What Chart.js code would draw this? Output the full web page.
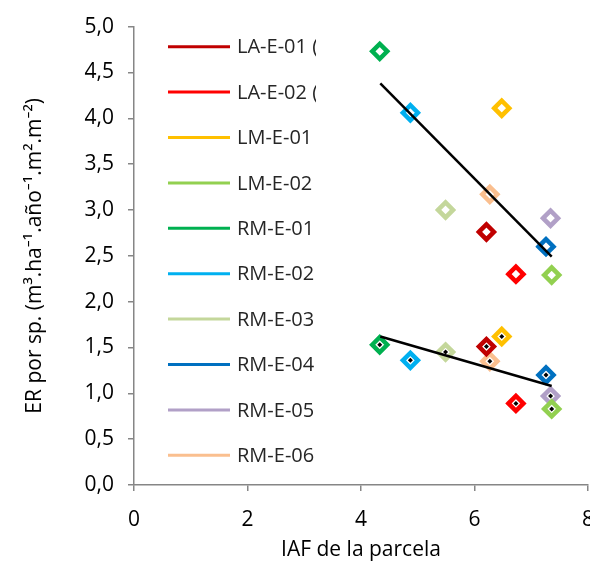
<!DOCTYPE html>
<html lang="es">
  <head>
    <meta charset="UTF-8">
    <title>ER por sp. vs IAF</title>
    <script src="https://cdn.jsdelivr.net/npm/chart.js"></script>
    <style>
      html, body { margin: 0; padding: 0; background: #fff; overflow: hidden; }
      #wrap { position: absolute; left: 0; top: 0; width: 590px; height: 563px; overflow: hidden; }
    </style>
  </head>
  <body>
    <div id="wrap">
      <canvas id="grafico" width="620" height="563"></canvas>
    </div>
    <script>
        // Parcelas y colores
        const parcelas = ['LA-E-01 (', 'LA-E-02 (', 'LM-E-01', 'LM-E-02', 'RM-E-01', 'RM-E-02', 'RM-E-03', 'RM-E-04', 'RM-E-05', 'RM-E-06'];
        const colores = ['#C00000', '#FF0000', '#FFC000', '#92D050', '#00B050', '#00B0F0', '#C4D79B', '#0070C0', '#B1A0C7', '#FABF8F'];

        // IAF de la parcela (eje x)
        const iaf = [6.21, 6.73, 6.48, 7.36, 4.33, 4.87, 5.49, 7.26, 7.34, 6.27];
        // ER por sp. - grupo superior y grupo inferior (puntos con centro negro)
        const erSuperior = [2.76, 2.30, 4.11, 2.29, 4.73, 4.06, 3.00, 2.60, 2.91, 3.17];
        const erInferior = [1.51, 0.89, 1.62, 0.83, 1.53, 1.36, 1.45, 1.20, 0.97, 1.35];

        // Líneas de tendencia (extremos)
        const tendSupX = [4.34, 7.36];
        const tendSupY = [4.38, 2.49];
        const tendInfX = [4.34, 7.36];
        const tendInfY = [1.62, 1.08];

        const fuente = "'Open Sans', 'Noto Sans', sans-serif";

        const datasets = [];
        parcelas.forEach((p, i) => {
            datasets.push({
                type: 'scatter',
                label: p,
                data: [{ x: iaf[i], y: erSuperior[i] }, { x: iaf[i], y: erInferior[i] }],
                pointStyle: 'rectRot',
                pointRadius: 7.5,
                pointBorderWidth: 4.5,
                borderColor: colores[i],
                backgroundColor: '#fff',
                pointBackgroundColor: '#fff',
                pointBorderColor: colores[i],
                order: 2
            });
        });
        datasets.push({
            type: 'line', label: 'tend1',
            data: tendSupX.map((x, i) => ({ x: x, y: tendSupY[i] })),
            borderColor: '#000', borderWidth: 2.5, pointRadius: 0, fill: false, order: 1
        });
        datasets.push({
            type: 'line', label: 'tend2',
            data: tendInfX.map((x, i) => ({ x: x, y: tendInfY[i] })),
            borderColor: '#000', borderWidth: 2.5, pointRadius: 0, fill: false, order: 1
        });
        datasets.push({
            type: 'scatter', label: 'centros',
            data: iaf.map((x, i) => ({ x: x, y: erInferior[i] })),
            pointStyle: 'rectRot', pointRadius: 2.5, pointBorderWidth: 0,
            pointBackgroundColor: '#000', backgroundColor: '#000', borderColor: '#000', order: 0
        });

        // Leyenda dibujada dentro del área del gráfico
        const leyenda = {
            id: 'leyenda',
            afterDraw(chart) {
                const ctx = chart.ctx;
                ctx.save();
                ctx.beginPath();
                ctx.rect(150, 20, 166, 460);
                ctx.clip();
                parcelas.forEach((p, i) => {
                    const y = 46.7 + i * 45.4;
                    ctx.strokeStyle = colores[i];
                    ctx.lineWidth = 3;
                    ctx.beginPath();
                    ctx.moveTo(168, y);
                    ctx.lineTo(230, y);
                    ctx.stroke();
                    ctx.fillStyle = '#262626';
                    ctx.font = '20px ' + fuente;
                    ctx.textBaseline = 'middle';
                    ctx.fillText(p, 237, y + 1);
                });
                ctx.restore();
            }
        };

        const ejeGris = '#868686';
        new Chart(document.getElementById('grafico'), {
            data: { datasets: datasets },
            options: {
                responsive: false,
                animation: false,
                devicePixelRatio: 1,
                layout: { padding: { top: 21, right: 32, left: 22, bottom: 0 } },
                plugins: { legend: { display: false }, tooltip: { enabled: false } },
                scales: {
                    x: {
                        type: 'linear', min: 0, max: 8,
                        ticks: { stepSize: 2, color: '#000', font: { family: fuente, size: 21 }, padding: 16 },
                        grid: { drawOnChartArea: false, color: ejeGris, tickLength: 6, lineWidth: 1.5 },
                        border: { color: ejeGris, width: 1.5 },
                        title: { display: true, text: 'IAF de la parcela', color: '#000', font: { family: fuente, size: 21 }, padding: 0 },
                        afterFit(s) { s.height = 78; }
                    },
                    y: {
                        type: 'linear', min: 0, max: 5,
                        ticks: { stepSize: 0.5, color: '#000', font: { family: fuente, size: 21 }, padding: 14,
                                 callback: v => v.toFixed(1).replace('.', ',') },
                        grid: { drawOnChartArea: false, color: ejeGris, tickLength: 6, lineWidth: 1.5 },
                        border: { color: ejeGris, width: 1.5 },
                        title: { display: true, text: 'ER por sp. (m³.ha⁻¹.año⁻¹.m².m⁻²)', color: '#000', font: { family: fuente, size: 21 }, padding: 0 },
                        afterFit(s) { s.width = 112; }
                    }
                }
            },
            plugins: [leyenda]
        });
    </script>
  </body>
</html>
